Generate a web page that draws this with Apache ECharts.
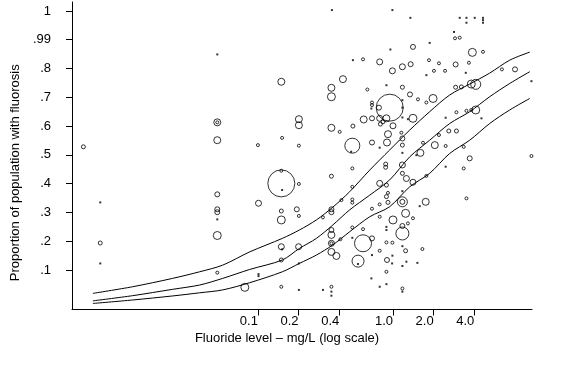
<!DOCTYPE html>
<html lang="en">
<head>
    <meta charset="UTF-8">
    <title>Fluorosis vs fluoride level</title>
    <script src="https://cdn.jsdelivr.net/npm/echarts@6.0.0/dist/echarts.min.js"></script>
    <style>
        html, body { margin: 0; padding: 0; background: #fff; }
        #chart { width: 584px; height: 376px; }
    </style>
</head>
<body>
<div id="chart"></div>
<script>
    // tick labels
    var xTickValues = [0.1, 0.2, 0.4, 1, 2, 4];
    var xTickLabels = ['0.1', '0.2', '0.4', '1.0', '2.0', '4.0'];
    var yTickValues = [0.1, 0.2, 0.3, 0.4, 0.5, 0.6, 0.7, 0.8, 0.9, 1.0];
    var yTickLabels = ['.1', '.2', '.3', '.4', '.5', '.6', '.7', '.8', '.99', '1'];

    // fitted curves: fluoride (mg/L) and proportion
    var curveFluoride = [0.006, 0.0118, 0.0233, 0.037, 0.0548, 0.0868, 0.1516, 0.2026, 0.2708, 0.3575,
        0.4778, 0.672, 0.945, 1.329, 1.87, 2.63, 3.70, 5.20, 7.32, 10.3];
    var upperCurve = [0.019, 0.042, 0.071, 0.094, 0.117, 0.163, 0.21, 0.239, 0.274, 0.318,
        0.372, 0.447, 0.517, 0.586, 0.65, 0.708, 0.746, 0.784, 0.829, 0.857];
    var middleCurve = [-0.007, 0.011, 0.033, 0.048, 0.071, 0.102, 0.135, 0.175, 0.21, 0.256,
        0.309, 0.36, 0.413, 0.493, 0.551, 0.609, 0.65, 0.702, 0.748, 0.789];
    var lowerCurve = [-0.016, -0.004, 0.01, 0.021, 0.031, 0.056, 0.094, 0.123, 0.152, 0.187,
        0.233, 0.285, 0.32, 0.389, 0.436, 0.505, 0.551, 0.609, 0.656, 0.696];

    // studies drawn as open circles: [fluoride mg/L, proportion, weight]
    var studies = [
        [0.0051, 0.528, 4], [0.0068, 0.194, 4], [0.149, 0.754, 7], [0.426, 0.763, 7], [0.35, 0.733, 7],
        [0.35, 0.702, 8], [0.050, 0.613, 7], [0.050, 0.613, 3], [0.201, 0.624, 7], [0.201, 0.603, 7],
        [0.35, 0.594, 7], [0.403, 0.58, 3], [0.050, 0.551, 7], [0.10, 0.534, 3], [0.151, 0.559, 3],
        [0.201, 0.532, 3], [0.50, 0.532, 15], [0.149, 0.401, 27], [0.149, 0.445, 3], [0.201, 0.399, 3],
        [0.35, 0.426, 4], [0.050, 0.363, 5], [0.101, 0.332, 6], [0.050, 0.311, 5], [0.050, 0.301, 5],
        [0.149, 0.305, 4], [0.194, 0.311, 5], [0.149, 0.274, 8], [0.201, 0.288, 3], [0.303, 0.283, 3],
        [0.35, 0.311, 5], [0.35, 0.301, 5], [0.415, 0.343, 3], [0.050, 0.22, 8], [0.35, 0.239, 5],
        [0.35, 0.222, 7], [0.35, 0.193, 6], [0.35, 0.193, 3], [0.35, 0.163, 7], [0.381, 0.149, 7],
        [0.408, 0.207, 3], [0.149, 0.181, 6], [0.2, 0.181, 6], [0.149, 0.135, 4], [0.050, 0.091, 3],
        [0.080, 0.04, 8], [0.149, 0.042, 3], [0.35, 0.042, 3],
        [2.88, 0.905, 3], [3.12, 0.907, 3], [1.406, 0.875, 5], [0.6, 0.832, 3], [0.797, 0.823, 6],
        [1.848, 0.829, 3], [2.19, 0.818, 3], [1.352, 0.815, 5], [1.174, 0.806, 6], [0.99, 0.792, 6],
        [2.01, 0.792, 3], [2.43, 0.792, 3], [2.91, 0.814, 5], [0.646, 0.727, 3], [1.174, 0.735, 4],
        [2.91, 0.735, 4], [1.336, 0.71, 5], [0.946, 0.664, 27], [1.531, 0.693, 3], [1.98, 0.696, 8],
        [1.767, 0.682, 3], [0.699, 0.682, 3], [0.699, 0.673, 3], [0.787, 0.664, 5], [2.95, 0.648, 3],
        [0.607, 0.623, 7], [0.699, 0.627, 5], [0.797, 0.627, 6], [0.894, 0.627, 7], [0.843, 0.615, 4],
        [1.0, 0.601, 6], [0.807, 0.607, 4], [1.406, 0.627, 8], [0.505, 0.6, 4], [0.918, 0.572, 7],
        [1.154, 0.577, 3], [1.174, 0.557, 5], [0.699, 0.543, 5], [0.903, 0.543, 7], [1.174, 0.534, 4],
        [2.59, 0.583, 4], [2.95, 0.583, 4], [2.19, 0.569, 3], [1.668, 0.542, 3], [2.04, 0.534, 7],
        [2.455, 0.531, 3], [1.596, 0.507, 7],
        [0.5, 0.453, 3], [0.883, 0.468, 4], [0.883, 0.457, 4], [1.174, 0.465, 6], [1.174, 0.436, 4],
        [1.257, 0.418, 6], [1.406, 0.405, 6], [1.767, 0.427, 3], [0.5, 0.389, 3], [0.797, 0.401, 6],
        [0.894, 0.395, 4], [0.918, 0.368, 3], [0.894, 0.355, 4], [0.5, 0.345, 3], [0.5, 0.334, 3],
        [1.174, 0.337, 10], [1.174, 0.337, 5], [0.918, 0.335, 4], [0.797, 0.328, 3], [1.747, 0.337, 7],
        [0.699, 0.313, 3], [1.24, 0.297, 8], [1.406, 0.28, 3], [0.797, 0.285, 3], [1.0, 0.274, 8],
        [1.29, 0.262, 3], [1.174, 0.253, 5], [0.5, 0.248, 3], [0.6, 0.242, 3], [1.174, 0.227, 13],
        [0.6, 0.193, 17], [0.699, 0.21, 5], [0.894, 0.196, 3], [0.99, 0.195, 3], [1.24, 0.167, 4],
        [1.651, 0.173, 3], [0.797, 0.167, 3], [0.551, 0.131, 12], [0.903, 0.135, 5], [0.894, 0.094, 3],
        [1.174, 0.036, 3],
        [3.87, 0.856, 8], [4.64, 0.858, 3], [3.65, 0.82, 3], [6.41, 0.797, 3], [8.01, 0.797, 5],
        [3.21, 0.736, 4], [3.80, 0.746, 8], [4.1, 0.745, 10], [3.5, 0.653, 3], [3.8, 0.656, 3],
        [4.1, 0.656, 8], [3.34, 0.528, 3], [3.7, 0.488, 5], [10.6, 0.496, 3], [3.34, 0.453, 3],
        [3.5, 0.349, 3]
    ];

    // studies drawn as small filled dots: [fluoride mg/L, proportion]
    var smallStudies = [
        [0.0068, 0.335], [0.0068, 0.123], [0.353, 1.003], [0.050, 0.849], [0.151, 0.378], [0.050, 0.276],
        [0.151, 0.172], [0.201, 0.123], [0.101, 0.086], [0.101, 0.079], [0.201, 0.031], [0.303, 0.031],
        [0.35, 0.025], [0.35, 0.011],
        [0.99, 1.003], [1.345, 0.976], [2.83, 0.927], [1.87, 0.889], [0.957, 0.866], [0.505, 0.829],
        [1.767, 0.777], [0.894, 0.742], [0.692, 0.661], [1.174, 0.69], [1.174, 0.664], [1.174, 0.63],
        [1.29, 0.624], [0.797, 0.525], [2.455, 0.629], [1.174, 0.507], [1.49, 0.499], [0.49, 0.511],
        [2.455, 0.459], [1.174, 0.374], [1.577, 0.322], [0.894, 0.25], [0.894, 0.239], [0.5, 0.212],
        [1.174, 0.183], [0.699, 0.152], [0.99, 0.15], [0.551, 0.121], [0.985, 0.123], [1.257, 0.129],
        [1.516, 0.125], [1.174, 0.114], [0.692, 0.071], [0.894, 0.051], [0.797, 0.042], [1.174, 0.025],
        [3.12, 0.976], [3.5, 0.976], [4.03, 0.976], [4.64, 0.976], [3.5, 0.959], [4.64, 0.959],
        [4.64, 0.968], [3.46, 0.785], [10.6, 0.756], [4.52, 0.627]
    ];

    // x axis is drawn on log10 of the fluoride level
    function lg(v) { return Math.log10(v); }

    function curveData(values) {
        return curveFluoride.map(function (f, i) { return [lg(f), values[i]]; });
    }

    function pickLabel(values, labels, v) {
        for (var i = 0; i < values.length; i++) {
            if (Math.abs(values[i] - v) < 1e-6) return labels[i];
        }
        return '';
    }

    var font = "'Liberation Sans', Arial, sans-serif";
    var lineStyle = { color: '#000', width: 1 };

    var myChart = echarts.init(document.getElementById('chart'));
    var option = {
        animation: false,
        backgroundColor: '#fff',
        grid: { left: 72, right: 52, top: 2, bottom: 66.5 },
        xAxis: {
            type: 'value',
            min: lg(0.0042),
            max: lg(10.7),
            name: 'Fluoride level \u2013 mg/L (log scale)',
            nameLocation: 'middle',
            nameGap: 19,
            nameTextStyle: { color: '#000', fontSize: 13, fontFamily: font, padding: [0, 30, 0, 0] },
            axisLine: { onZero: false, lineStyle: lineStyle },
            axisTick: { length: 6, lineStyle: lineStyle, customValues: xTickValues.map(lg) },
            axisLabel: {
                color: '#000', fontSize: 13, fontFamily: font, margin: 5, align: 'right',
                customValues: xTickValues.map(lg),
                formatter: function (v) { return pickLabel(xTickValues.map(lg), xTickLabels, v); }
            },
            splitLine: { show: false }
        },
        yAxis: {
            type: 'value',
            min: -0.037,
            max: 1.031,
            name: 'Proportion of population with fluorosis',
            nameLocation: 'middle',
            nameGap: 47,
            nameTextStyle: { color: '#000', fontSize: 13, fontFamily: font, padding: [0, 34, 0, 0] },
            axisLine: { show: true, onZero: false, lineStyle: lineStyle },
            axisTick: { show: true, length: 6, lineStyle: lineStyle, customValues: yTickValues },
            axisLabel: {
                color: '#000', fontSize: 13, fontFamily: font, margin: 21,
                customValues: yTickValues,
                formatter: function (v) { return pickLabel(yTickValues, yTickLabels, v); }
            },
            splitLine: { show: false }
        },
        series: [
            {
                type: 'scatter',
                silent: true,
                data: studies.map(function (d) { return [lg(d[0]), d[1], d[2]]; }),
                symbol: 'circle',
                symbolSize: function (v) { return v[2]; },
                itemStyle: { color: 'rgba(0,0,0,0)', borderColor: '#000', borderWidth: 1 }
            },
            {
                type: 'scatter',
                silent: true,
                data: smallStudies.map(function (d) { return [lg(d[0]), d[1]]; }),
                symbol: 'rect',
                symbolSize: 2,
                itemStyle: { color: '#000' }
            },
            {
                type: 'line', silent: true, showSymbol: false, smooth: 0.3,
                data: curveData(upperCurve), lineStyle: lineStyle
            },
            {
                type: 'line', silent: true, showSymbol: false, smooth: 0.3,
                data: curveData(middleCurve), lineStyle: lineStyle
            },
            {
                type: 'line', silent: true, showSymbol: false, smooth: 0.3,
                data: curveData(lowerCurve), lineStyle: lineStyle
            }
        ]
    };
    myChart.setOption(option);
</script>
</body>
</html>
